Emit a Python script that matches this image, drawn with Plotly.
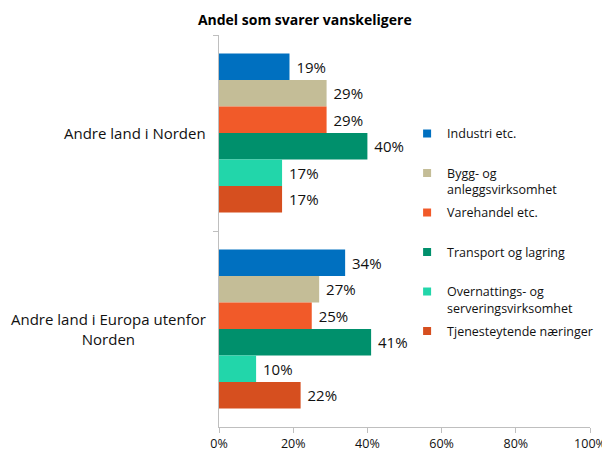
import plotly.graph_objects as go

# Kategorier og verdier (andel som svarer vanskeligere, %)
regions = ["Andre land i Norden", "Andre land i Europa utenfor Norden"]
region_labels = ["Andre land i Norden", "Andre land i Europa utenfor<br>Norden"]
sectors = [
    "Industri etc.",
    "Bygg- og<br>anleggsvirksomhet",
    "Varehandel etc.",
    "Transport og lagring",
    "Overnattings- og<br>serveringsvirksomhet",
    "Tjenesteytende næringer",
]
industri = [19, 34]
bygg = [29, 27]
varehandel = [29, 25]
transport = [40, 41]
overnatting = [17, 10]
tjeneste = [17, 22]
x_ticks = [0, 20, 40, 60, 80, 100]
x_ticktext = ["0%", "20%", "40%", "60%", "80%", "100%"]

colors = ["#0070c0", "#c4bd97", "#f15a29", "#00906c", "#22d6aa", "#d64f1f"]
series = [industri, bygg, varehandel, transport, overnatting, tjeneste]

FONT = "Open Sans"
TXT = "#111111"

# siden har 8px body-marg, så figuren gjøres 8px mindre og margene justeres
W, H = 602, 448

fig = go.Figure()
for i, (name, vals, col) in enumerate(zip(sectors, series, colors)):
    fig.add_trace(go.Bar(
        y=regions, x=vals, orientation="h", name=name, showlegend=False,
        marker=dict(color=col, line=dict(width=0)),
        text=[f"\u00a0{v}%" for v in vals], textposition="outside",
        textfont=dict(family=FONT, size=15, color=TXT),
        cliponaxis=False,
    ))
    # små firkanter i legenden, alle oppføringer to linjer høye som i Excel
    label = name if "<br>" in name else name + "<br>\u00a0"
    fig.add_trace(go.Scatter(
        x=[None], y=[None], mode="markers", name=label, legendgroup=f"g{i}",
        marker=dict(symbol="square", size=8, color=col),
    ))

for reg, lab in zip(regions, region_labels):
    fig.add_annotation(
        x=-0.03, xref="paper", y=reg, yref="y", text=lab, showarrow=False,
        xanchor="right", align="center",
        font=dict(family=FONT, size=15, color=TXT),
    )

fig.update_layout(
    width=W, height=H,
    margin=dict(l=211, r=20, t=27, b=29, autoexpand=False),
    paper_bgcolor="white", plot_bgcolor="white",
    barmode="group", bargap=0.19, bargroupgap=0,
    title=dict(text="<b>Andel som svarer vanskeligere</b>", x=0.493, xanchor="center",
               y=0.985, yanchor="top", font=dict(family=FONT, size=14, color="#000000")),
    legend=dict(x=0.507, y=0.786, xanchor="left", yanchor="top", valign="top",
                bgcolor="rgba(0,0,0,0)", font=dict(family=FONT, size=12.5, color=TXT),
                itemwidth=30, tracegroupgap=4),
    showlegend=True,
)
fig.update_xaxes(
    range=[0, 100], tickvals=x_ticks, ticktext=x_ticktext, showgrid=False, zeroline=False,
    showline=True, linecolor="#bfbfbf", linewidth=1,
    ticks="outside", ticklen=5, tickcolor="#bfbfbf", ticklabeloverflow="allow",
    tickfont=dict(family=FONT, size=12.5, color=TXT),
)
fig.update_yaxes(
    autorange="reversed", showticklabels=False, showgrid=False, zeroline=False,
    showline=True, linecolor="#bfbfbf", linewidth=1,
    ticks="outside", ticklen=5, tickcolor="#bfbfbf", tickson="boundaries",
)

fig.write_html("out.html")
